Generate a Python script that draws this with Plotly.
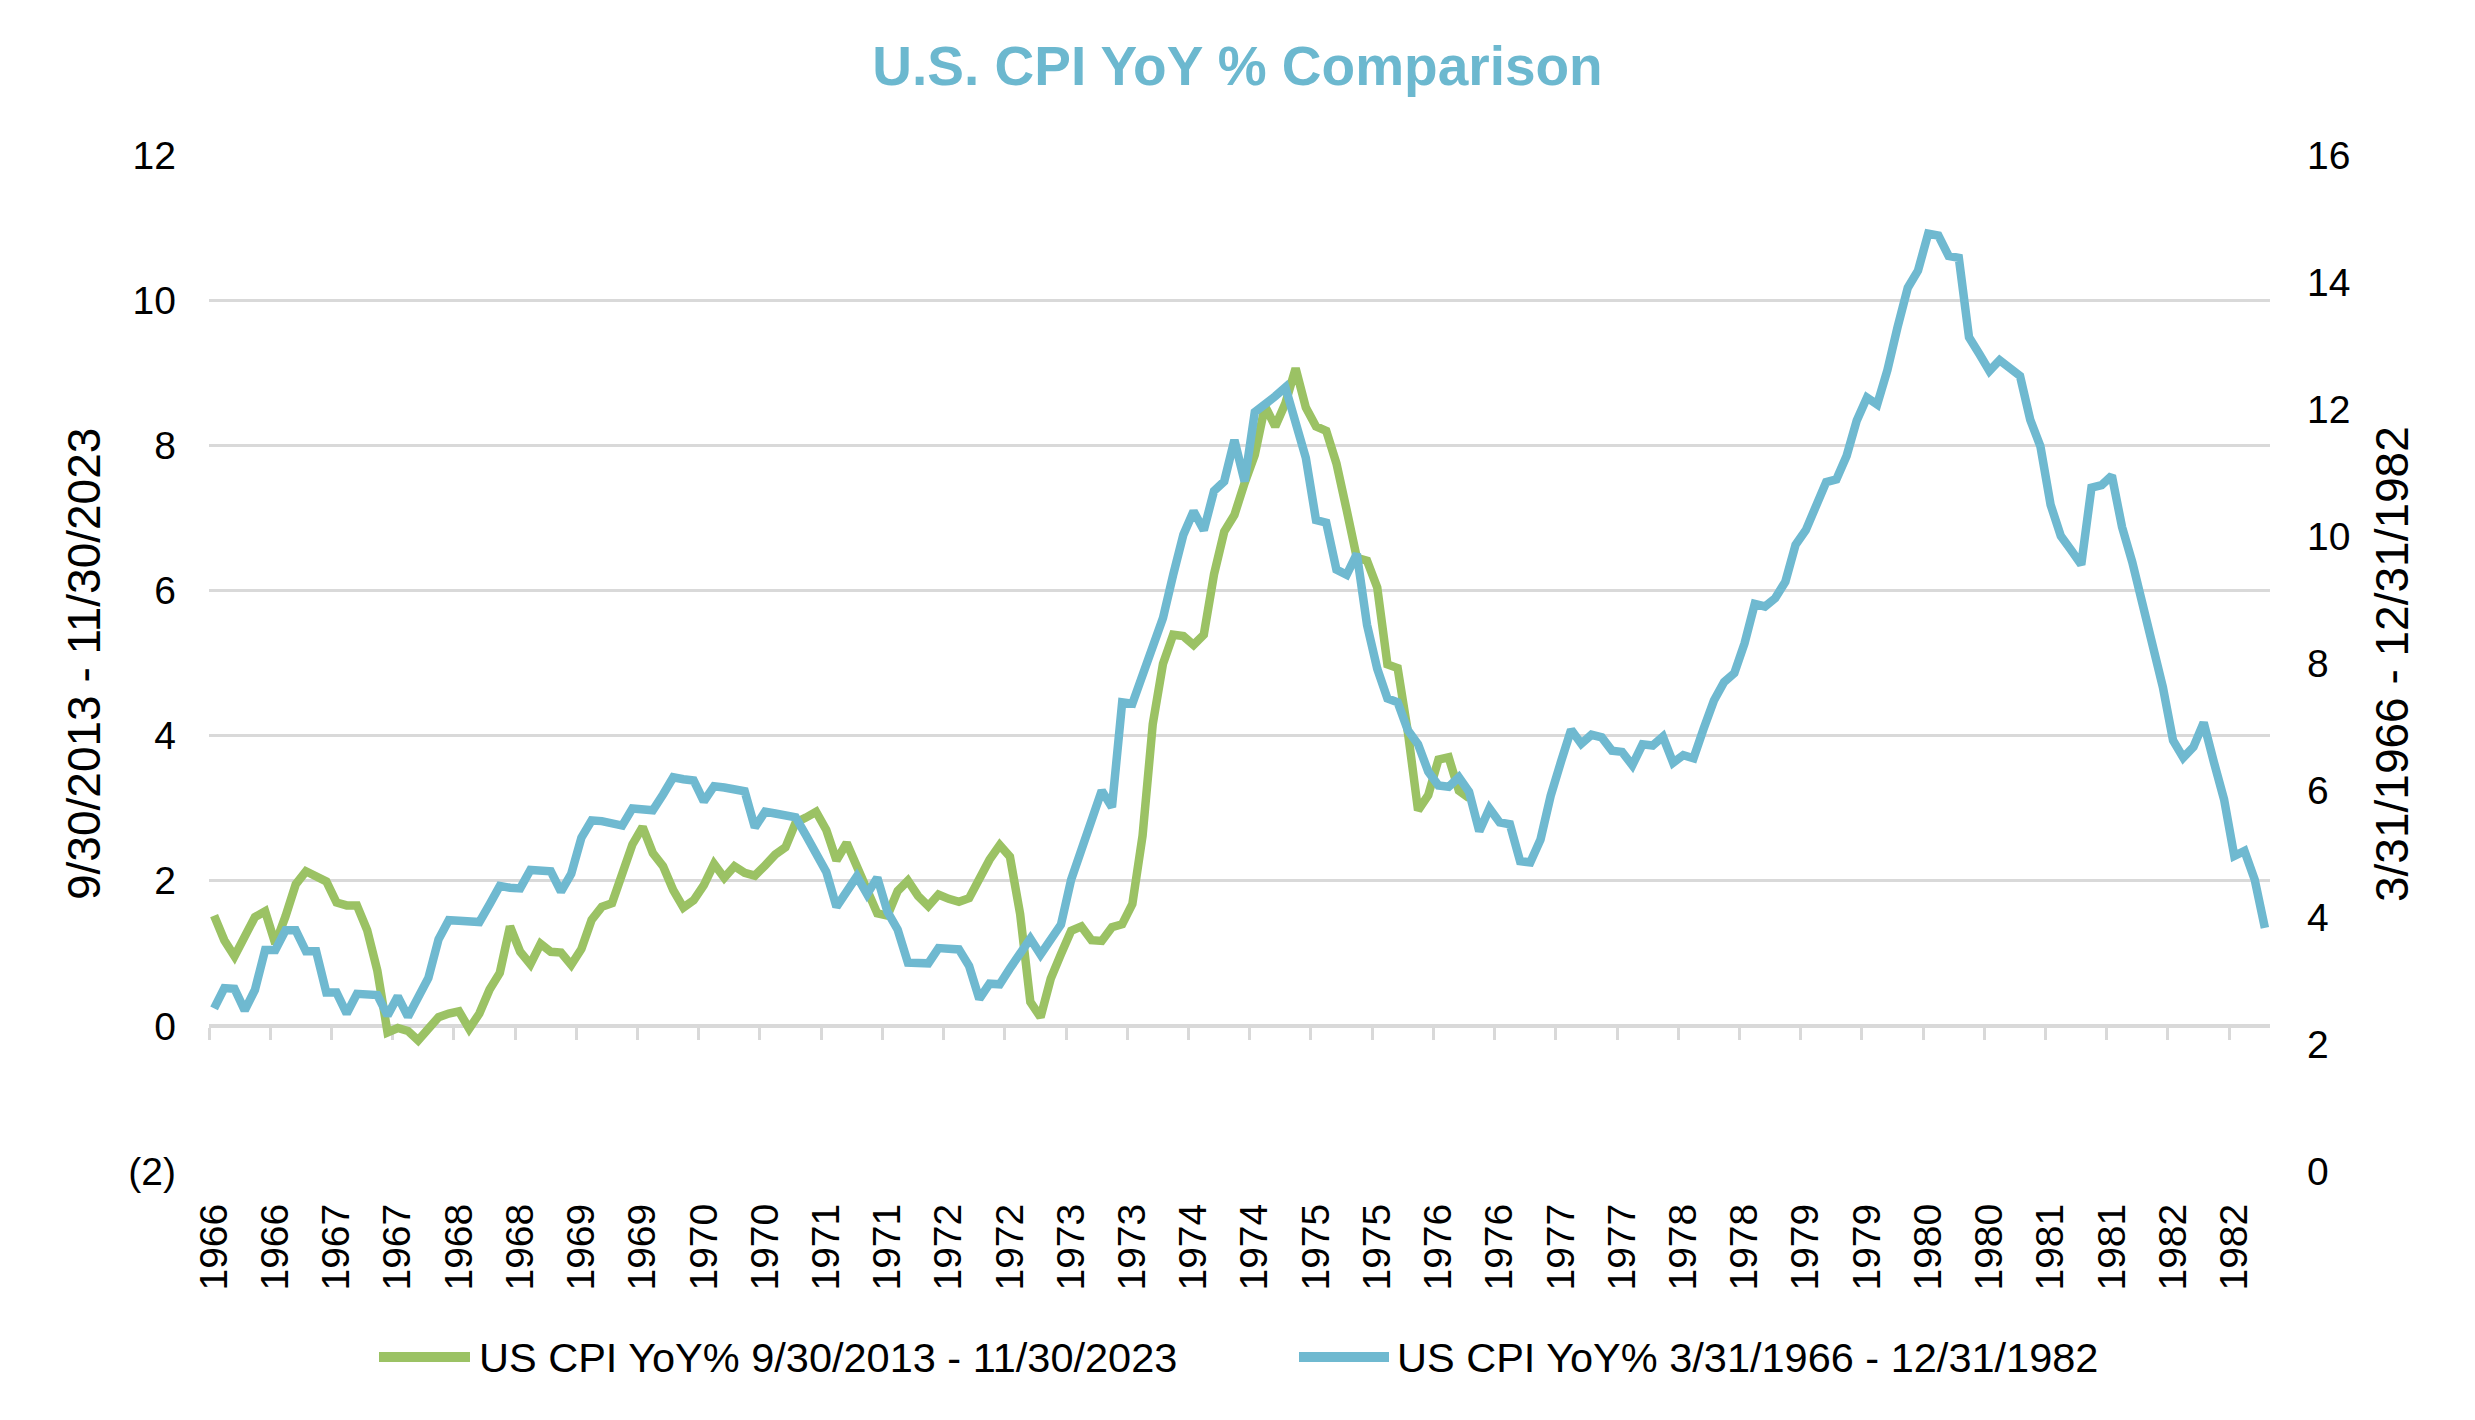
import plotly.graph_objects as go

# ---------------- data ----------------
# US CPI YoY % (monthly), green series: Aug 2013 .. Nov 2023 (left axis)
green = [
    1.52, 1.18, 0.96, 1.24, 1.50,
    1.58, 1.13, 1.51, 1.95, 2.13, 2.07, 1.99, 1.70, 1.66, 1.66, 1.32, 0.76,
    -0.09, -0.03, -0.07, -0.20, -0.04, 0.12, 0.17, 0.20, -0.04, 0.17, 0.50, 0.73,
    1.37, 1.02, 0.85, 1.13, 1.02, 1.01, 0.84, 1.06, 1.46, 1.64, 1.69, 2.07,
    2.50, 2.74, 2.38, 2.20, 1.87, 1.63, 1.73, 1.94, 2.23, 2.04, 2.20, 2.11,
    2.07, 2.21, 2.36, 2.46, 2.80, 2.87, 2.95, 2.70, 2.28, 2.52, 2.18, 1.91,
    1.55, 1.52, 1.86, 2.00, 1.79, 1.65, 1.81, 1.75, 1.71, 1.76, 2.05, 2.29,
    2.49, 2.33, 1.54, 0.33, 0.12, 0.65, 0.99, 1.31, 1.37, 1.18, 1.17, 1.36,
    1.40, 1.68, 2.62, 4.16, 4.99, 5.39, 5.37, 5.25, 5.39, 6.22, 6.81, 7.04,
    7.48, 7.87, 8.54, 8.26, 8.58, 9.06, 8.52, 8.26, 8.20, 7.75, 7.11, 6.45,
    6.41, 6.04, 4.98, 4.93, 4.05, 2.97, 3.18, 3.67, 3.70, 3.24, 3.14,
]

# blue series: Mar 1966 .. Dec 1982 (right axis)
blue = [
    2.56, 2.88, 2.87, 2.53, 2.85, 3.48, 3.48, 3.79, 3.79, 3.46,
    3.46, 2.81, 2.81, 2.48, 2.79, 2.78, 2.77, 2.45, 2.75, 2.43, 2.74, 3.04,
    3.65, 3.95, 3.94, 3.93, 3.92, 4.20, 4.49, 4.46, 4.45, 4.74, 4.73, 4.72,
    4.40, 4.68, 5.25, 5.52, 5.51, 5.48, 5.44, 5.71, 5.70, 5.68, 5.93, 6.20,
    6.17, 6.15, 5.82, 6.06, 6.04, 6.01, 5.98, 5.41, 5.66, 5.63, 5.60, 5.57,
    5.29, 5.00, 4.71, 4.16, 4.40, 4.64, 4.36, 4.62, 4.08, 3.80, 3.28, 3.27,
    3.27, 3.51, 3.50, 3.49, 3.23, 2.71, 2.95, 2.94, 3.19, 3.42, 3.66, 3.41,
    3.65, 3.88, 4.59, 5.06, 5.53, 5.99, 5.73, 7.38, 7.36, 7.80, 8.25, 8.71,
    9.39, 10.02, 10.39, 10.09, 10.71, 10.86, 11.51, 10.86, 11.95, 12.06, 12.20, 12.34,
    11.80, 11.23, 10.25, 10.21, 9.47, 9.39, 9.72, 8.60, 7.91, 7.44, 7.38, 6.94,
    6.72, 6.29, 6.07, 6.05, 6.20, 5.97, 5.35, 5.71, 5.49, 5.46, 4.88, 4.86,
    5.22, 5.91, 6.44, 6.95, 6.73, 6.87, 6.83, 6.62, 6.60, 6.39, 6.72, 6.70,
    6.84, 6.43, 6.55, 6.50, 6.97, 7.41, 7.70, 7.84, 8.31, 8.93, 8.89, 9.02,
    9.28, 9.86, 10.09, 10.49, 10.85, 10.89, 11.26, 11.82, 12.18, 12.07, 12.61, 13.29,
    13.91, 14.18, 14.76, 14.73, 14.41, 14.38, 13.13, 12.87, 12.60, 12.77, 12.65, 12.52,
    11.83, 11.41, 10.49, 10.00, 9.78, 9.55, 10.76, 10.80, 10.95, 10.14, 9.59, 8.92,
    8.39, 7.62, 6.78, 6.51, 6.68, 7.06, 6.44, 5.85, 4.96, 5.04, 4.59, 3.83,
]

green_name = "US CPI YoY% 9/30/2013 - 11/30/2023"
blue_name = "US CPI YoY% 3/31/1966 - 12/31/1982"
left_title = "9/30/2013 - 11/30/2023"
right_title = "3/31/1966 - 12/31/1982"
title_text = "U.S. CPI YoY % Comparison"

start_year, start_month0 = 1966, 2  # March (0-based month)
left_ticks = [-2, 0, 2, 4, 6, 8, 10, 12]
left_ticktext = ["(2)", "0", "2", "4", "6", "8", "10", "12"]
right_ticks = [0, 2, 4, 6, 8, 10, 12, 14, 16]

# ---------------- styling ----------------
GREEN = "#9BC264"
BLUE = "#6FB9D0"
GRID = "#D9D9D9"
FONT = "Arial, Liberation Sans, sans-serif"

OFF = 8                      # page body margin of the html page
PAGE_W, PAGE_H = 2475, 1420
W, H = PAGE_W - 2 * OFF, PAGE_H - 2 * OFF
# plot area in page pixels
PL, PR, PT, PB = 209, 2270, 155, 1171
L, R, T, B = PL - OFF, PR - OFF, PT - OFF, PB - OFF
PW, PH = R - L, B - T

def px_x(px):
    return (px - OFF - L) / PW

def px_y(py):
    return (B - (py - OFF)) / PH

n = len(blue)
x_blue = list(range(n))
x_green = list(range(len(green)))
label_idx = list(range(0, n, 6))
label_txt = [str(start_year + (start_month0 + i) // 12) for i in label_idx]
bound_idx = [i - 0.5 for i in label_idx]
xr = [-0.5, n - 0.5]

fig = go.Figure()
fig.add_trace(go.Scatter(x=x_green, y=green, name=green_name, mode="lines",
                         line=dict(color=GREEN, width=8.5), xaxis="x", yaxis="y",
                         showlegend=False))
fig.add_trace(go.Scatter(x=x_blue, y=blue, name=blue_name, mode="lines",
                         line=dict(color=BLUE, width=8.5), xaxis="x", yaxis="y2",
                         showlegend=False))
# helper (empty) trace so the zero-line axis with tick marks is drawn
fig.add_trace(go.Scatter(x=[0], y=[None], xaxis="x2", yaxis="y", showlegend=False,
                         hoverinfo="skip", mode="lines"))

tickfont = dict(family=FONT, size=39, color="#000000")

fig.update_layout(
    width=W, height=H,
    margin=dict(l=L, r=W - R, t=T, b=H - B, pad=0),
    paper_bgcolor="white", plot_bgcolor="white",
    title=dict(text="<b>" + title_text + "</b>", x=0.5, xref="container", xanchor="center",
               y=1 - (66 - OFF) / H, yref="container", yanchor="middle",
               font=dict(family=FONT, size=55, color="#6CB8CF")),
    xaxis=dict(range=xr, tickmode="array", tickvals=label_idx, ticktext=label_txt,
               tickangle=-90, ticks="", showgrid=False, zeroline=False, showline=False,
               tickfont=tickfont, ticklabelstandoff=24),
    xaxis2=dict(range=xr, overlaying="x", anchor="free", position=2 / 14,
                tickmode="array", tickvals=bound_idx, ticks="outside", ticklen=12,
                tickwidth=3, tickcolor=GRID, showline=True, linecolor=GRID, linewidth=3,
                showticklabels=False, showgrid=False, zeroline=False, layer="below traces"),
    yaxis=dict(range=[-2, 12], tickmode="array", tickvals=left_ticks, ticktext=left_ticktext,
               showgrid=True, gridcolor=GRID, gridwidth=2.5, zeroline=False, showline=False,
               ticks="", tickfont=tickfont, ticklabelstandoff=32),
    yaxis2=dict(range=[0, 16], tickmode="array", tickvals=right_ticks, overlaying="y",
                side="right", showgrid=False, zeroline=False, showline=False, ticks="",
                tickfont=tickfont, ticklabelstandoff=36),
    showlegend=False,
)

# axis titles
fig.add_annotation(text=left_title, xref="paper", yref="paper", x=px_x(84), y=px_y(664),
                   textangle=-90, showarrow=False, xanchor="center", yanchor="middle",
                   font=dict(family=FONT, size=46, color="#000000"))
fig.add_annotation(text=right_title, xref="paper", yref="paper", x=px_x(2392), y=px_y(664),
                   textangle=-90, showarrow=False, xanchor="center", yanchor="middle",
                   font=dict(family=FONT, size=46, color="#000000"))

# legend (drawn below the plot)
leg_y = px_y(1357)
for (x0, x1, tx, col, name) in [(379, 470, 477, GREEN, green_name),
                                (1299, 1389, 1395, BLUE, blue_name)]:
    fig.add_shape(type="line", xref="paper", yref="paper", x0=px_x(x0), x1=px_x(x1),
                  y0=leg_y, y1=leg_y, line=dict(color=col, width=10))
    fig.add_annotation(text=name, xref="paper", yref="paper", x=px_x(tx), y=leg_y,
                       xanchor="left", yanchor="middle", showarrow=False,
                       font=dict(family=FONT, size=41.5, color="#000000"))

fig.write_html("out.html", include_plotlyjs=True, config={"displayModeBar": False})
